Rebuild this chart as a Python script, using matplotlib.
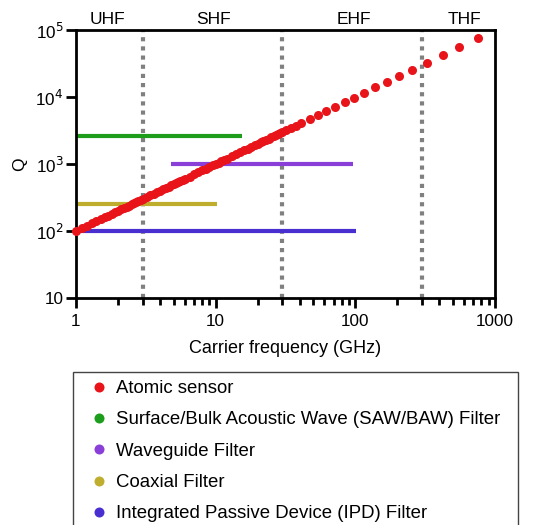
import matplotlib
matplotlib.use("Agg")
import matplotlib.pyplot as plt
from matplotlib.lines import Line2D
from matplotlib.patches import Rectangle
from matplotlib.ticker import FixedLocator, FixedFormatter, NullLocator

plt.rcParams['font.family'] = ['Liberation Sans', 'DejaVu Sans']

# ---- data ----
atomic_freq_ghz = [1.0, 1.1, 1.2, 1.3, 1.4, 1.5, 1.6, 1.7, 1.8, 1.9, 2.0, 2.1, 2.2, 2.3, 2.4, 2.5,
                   2.6, 2.7, 2.8, 2.9, 3.0, 3.2, 3.4, 3.6, 3.8, 4.0, 4.2, 4.4, 4.6, 4.8, 5.0, 5.2,
                   5.4, 5.6, 5.8, 6.0, 6.5, 7.0, 7.5, 8.0, 8.5, 9.0, 9.5, 10.0, 10.5, 11.0, 11.5,
                   12.0, 13, 14, 15, 16, 17, 18, 19, 20, 21, 22, 23, 24, 25, 26, 27, 28, 29, 30,
                   32, 34.5, 37.5, 41, 47, 54, 62, 72, 84, 98, 116, 139, 169, 207, 256, 325, 422,
                   553, 757]
atomic_q = [100, 110, 120, 130, 140, 150, 160, 170, 180, 190, 200, 210, 220, 230, 240, 250,
            260, 270, 280, 290, 300, 320, 340, 360, 380, 400, 420, 440, 460, 480, 500, 520,
            540, 560, 580, 600, 650, 700, 750, 800, 850, 900, 950, 1000, 1050, 1100, 1150,
            1200, 1300, 1400, 1500, 1600, 1700, 1800, 1900, 2000, 2100, 2200, 2300, 2400, 2500,
            2600, 2700, 2800, 2900, 3000, 3200, 3450, 3750, 4100, 4700, 5400, 6200, 7200, 8400,
            9800, 11600, 13900, 16900, 20700, 25600, 32500, 42200, 55300, 75700]

filter_names = ["Surface/Bulk Acoustic Wave (SAW/BAW) Filter", "Waveguide Filter",
                "Coaxial Filter", "Integrated Passive Device (IPD) Filter"]
filter_f_start = [1, 4.8, 1, 1]
filter_f_end = [15.5, 97, 10.3, 101]
filter_q = [2600, 1000, 250, 100]
filter_colors = ["#1c9e1c", "#8a3fd8", "#bfae2e", "#4a2fd0"]
atomic_color = "#e8141a"

band_edges_ghz = [3, 30, 300]
band_names = ["UHF", "SHF", "EHF", "THF"]
band_label_pos = [1.69, 9.6, 98, 600]

x_ticks = [1, 10, 100, 1000]
x_tick_labels = ["1", "10", "100", "1000"]
y_ticks = [10, 100, 1000, 10000, 100000]
y_tick_labels = ["10", r"10$^2$", r"10$^3$", r"10$^4$", r"10$^5$"]

# ---- figure ----
fig = plt.figure(figsize=(5.41, 5.25), dpi=100)
ax = fig.add_axes([76/541, 1-298/525, (495-76)/541, (298-30)/525])
ax.set_xscale('log')
ax.set_yscale('log')
ax.set_xlim(1, 1000)
ax.set_ylim(10, 1e5)

for e in band_edges_ghz:
    ax.axvline(e, color='#808080', lw=3, ls=(0, (1, 1.2)), zorder=1)

for fs, fe, q, c in zip(filter_f_start, filter_f_end, filter_q, filter_colors):
    ax.plot([fs, fe], [q, q], color=c, lw=3, solid_capstyle='butt', zorder=2, clip_on=False)

ax.plot(atomic_freq_ghz, atomic_q, 'o', color=atomic_color, ms=6.5, mec='none', zorder=3, clip_on=False)

for name, xp in zip(band_names, band_label_pos):
    ax.text(xp, 1.12e5, name, ha='center', va='bottom', fontsize=12.5)

ax.xaxis.set_major_locator(FixedLocator(x_ticks))
ax.xaxis.set_major_formatter(FixedFormatter(x_tick_labels))
minor = [m * d for d in [1, 10, 100] for m in range(2, 10)]
ax.xaxis.set_minor_locator(FixedLocator(minor))
ax.yaxis.set_major_locator(FixedLocator(y_ticks))
ax.yaxis.set_major_formatter(FixedFormatter(y_tick_labels))
ax.yaxis.set_minor_locator(NullLocator())

ax.tick_params(axis='both', which='major', direction='out', length=7, width=2, labelsize=12.3)
ax.tick_params(axis='x', which='major', pad=4.2)
ax.tick_params(axis='y', which='major', pad=2)
ax.tick_params(axis='x', which='minor', direction='out', length=5, width=2)
for s in ax.spines.values():
    s.set_linewidth(2)

ax.set_xlabel("Carrier frequency (GHz)", fontsize=13, labelpad=8.5)
ax.set_ylabel("Q", fontsize=12.5, labelpad=6)

handles = [Line2D([], [], ls='none', marker='o', ms=7.2, mfc=atomic_color, mec='none')]
labels = ["Atomic sensor"]
for n, c in zip(filter_names, filter_colors):
    handles.append(Line2D([], [], ls='none', marker='o', ms=7.2, mfc=c, mec='none'))
    labels.append(n)
leg = fig.legend(handles, labels, loc='upper left',
                 bbox_to_anchor=(91/541, 1-380/525),
                 fontsize=13.4, frameon=False,
                 handlelength=0.85, handletextpad=0.5, labelspacing=0.77, borderpad=0,
                 borderaxespad=0)

frame = Rectangle((73/541, -0.05), (518-73)/541, (1-372/525) + 0.05,
                  transform=fig.transFigure, fill=False, edgecolor='#444444', lw=1.0)
fig.add_artist(frame)

fig.savefig("out.png", dpi=100)
